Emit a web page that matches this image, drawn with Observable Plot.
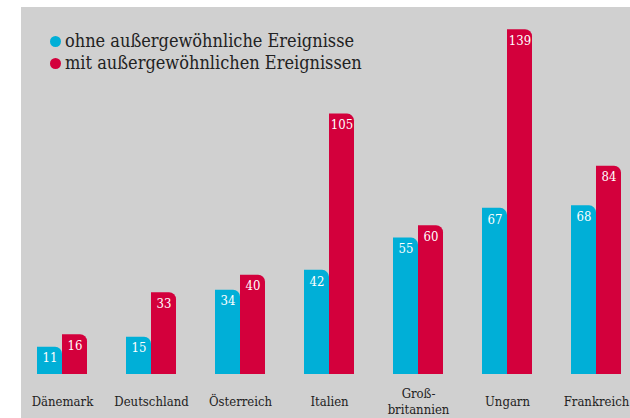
<!DOCTYPE html>
<html><head><meta charset="utf-8">
<script src="https://cdn.jsdelivr.net/npm/d3@7"></script>
<script src="https://cdn.jsdelivr.net/npm/@observablehq/plot@0.6"></script>
<style>
body{margin:0;background:#fff;}
#wrap{position:relative;width:630px;height:418px;overflow:hidden;}
#bg{position:absolute;left:21px;top:7px;right:0;bottom:0;background:#d0d0d0;}
#chart{position:absolute;left:0;top:0;}
#legend{position:absolute;left:50px;top:30px;font-family:"DejaVu Serif Condensed","DejaVu Serif",serif;font-stretch:condensed;font-size:18px;color:#222;line-height:22px;}
#legend .dot{display:inline-block;width:11px;height:11px;border-radius:50%;margin-right:4px;vertical-align:0px;}
</style></head>
<body>
<div id="wrap"><div id="bg"></div><div id="chart"></div><div id="legend"></div></div>
<script>
const countries = ["Dänemark","Deutschland","Österreich","Italien","Groß-\nbritannien","Ungarn","Frankreich"];
const series = ["ohne außergewöhnliche Ereignisse","mit außergewöhnlichen Ereignissen"];
const ohne = [11,15,34,42,55,67,68];
const mit = [16,33,40,105,60,139,84];
const colors = ["#00afd7","#d3003c"];

const data = [];
countries.forEach((c,i)=>{
  data.push({country:c, series:series[0], value:ohne[i]});
  data.push({country:c, series:series[1], value:mit[i]});
});

const font = '"DejaVu Serif Condensed","DejaVu Serif",serif';
const plot = Plot.plot({
  width:630, height:418,
  marginTop:2, marginBottom:44, marginLeft:27, marginRight:0,
  style:{fontFamily:font, fontStretch:"condensed", background:"transparent", overflow:"visible"},
  fx:{domain:countries, paddingInner:0.44, paddingOuter:0.1, axis:null},
  x:{domain:series, padding:0, axis:null},
  y:{domain:[0,150], axis:null},
  color:{domain:series, range:colors},
  marks:[
    Plot.barY(data,{fx:"country", x:"series", y:"value", fill:"series", inset:0, rx2y1:7}),
    Plot.text(data,{fx:"country", x:"series", y:"value", text:d=>String(d.value), fill:"white", dy:11, lineAnchor:"middle", fontSize:13}),
    Plot.text(countries,{fx:d=>d, text:d=>d, frameAnchor:"bottom", dy:26, lineAnchor:"middle", fontSize:13, fill:"#222", lineHeight:1.25})
  ]
});
document.getElementById("chart").appendChild(plot);
const lg = document.getElementById("legend");
series.forEach((s,i)=>{
  const row = document.createElement("div");
  row.innerHTML = `<span class="dot" style="background:${colors[i]}"></span>${s}`;
  lg.appendChild(row);
});
</script>
</body></html>
